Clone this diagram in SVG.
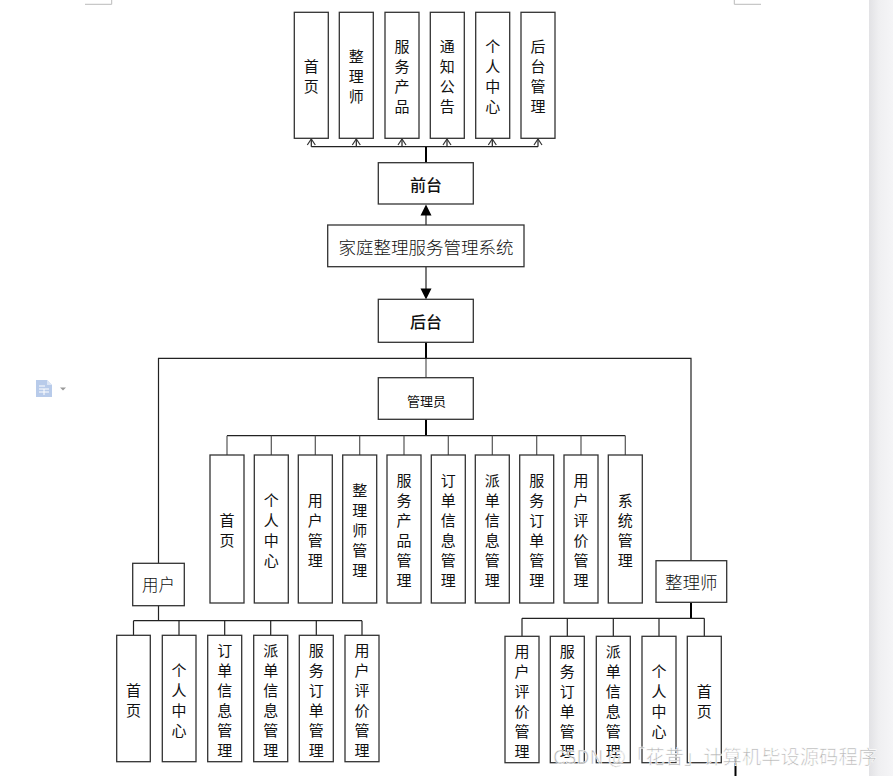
<svg xmlns="http://www.w3.org/2000/svg" width="893" height="776" viewBox="0 0 893 776">
<defs>
<style>
.box{fill:#fff;stroke:#333;stroke-width:1.3}
.ln{fill:none;stroke:#222;stroke-width:1.2}
.stem{fill:none;stroke:#000;stroke-width:2}
.gl{fill:none;stroke:#555;stroke-width:1.2}
.vt{font-family:"Noto Sans CJK SC","Noto Sans",sans-serif;font-size:15px;fill:#111;text-anchor:middle;dominant-baseline:central}
.lbl{font-family:"Noto Sans CJK SC","Noto Sans",sans-serif;fill:#111;text-anchor:middle;dominant-baseline:central}
</style>
<marker id="open" markerWidth="8" markerHeight="10" refX="7" refY="5" orient="auto" markerUnits="userSpaceOnUse" viewBox="0 0 8 10">
<path d="M1,1 L7,5 L1,9" fill="none" stroke="#333" stroke-width="1.2"/>
</marker>
<linearGradient id="band" x1="0" y1="0" x2="1" y2="0">
<stop offset="0" stop-color="#e2e2e5"/>
<stop offset="0.4" stop-color="#efeff1"/>
<stop offset="1" stop-color="#f5f5f7"/>
</linearGradient>
</defs>
<rect x="0" y="0" width="893" height="776" fill="#fff"/>
<rect x="869" y="0" width="24" height="776" fill="url(#band)"/>
<path d="M85,4.3 H111.7 V0" fill="none" stroke="#bbb" stroke-width="1"/>
<path d="M734.3,0 V4.3 H761" fill="none" stroke="#bbb" stroke-width="1"/>
<g id="icon">
<path d="M36,380 H47 L52,385 V397 H36 Z" fill="#b8cbea"/>
<path d="M47,380 V385 H52" fill="#dbe5f5"/>
<path d="M39,386 H45 M39,389 H49 M39,392 H49 M44,389 V395" stroke="#fff" stroke-width="1"/>
<path d="M60,387.5 H66 L63,390.5 Z" fill="#999"/>
</g>

<g id="connectors">
<path class="ln" d="M311.3,146.7 H538"/>
<path class="ln" d="M311.3,146.7 V139" marker-end="url(#open)"/>
<path class="ln" d="M356.3,146.7 V139" marker-end="url(#open)"/>
<path class="ln" d="M402,146.7 V139" marker-end="url(#open)"/>
<path class="ln" d="M447,146.7 V139" marker-end="url(#open)"/>
<path class="ln" d="M492.3,146.7 V139" marker-end="url(#open)"/>
<path class="ln" d="M538,146.7 V139" marker-end="url(#open)"/>
<path class="stem" d="M426,147 V163"/>
<path class="ln" d="M426,225 V215"/>
<path d="M420.5,215.5 H431.5 L426,204.5 Z" fill="#000"/>
<path class="ln" d="M426,266.7 V289"/>
<path d="M420.5,288.5 H431.5 L426,299.5 Z" fill="#000"/>
<path class="stem" d="M426,342 V358.3"/>
<path class="gl" d="M426,358.3 V377.7"/>
<path class="ln" d="M158.5,563.3 V358.3 H691 V560.7"/>
<path class="stem" d="M426,419.3 V435.7"/>
<path class="ln" d="M227,435.7 H625.3"/>
<path class="gl" d="M227,435.7 V455 M271.3,435.7 V455 M315.3,435.7 V455 M359.7,435.7 V455 M404,435.7 V455 M448.3,435.7 V455 M492.3,435.7 V455 M536.7,435.7 V455 M581,435.7 V455 M625.3,435.7 V455"/>
<path class="ln" d="M158.5,605.7 V620.7"/>
<path class="ln" d="M133.5,620.7 H362"/>
<path class="ln" d="M133.5,620.7 V635.3 M179,620.7 V635.3 M224.7,620.7 V635.3 M270.7,620.7 V635.3 M316.3,620.7 V635.3 M362,620.7 V635.3"/>
<path class="stem" d="M691,602.3 V618.3"/>
<path class="ln" d="M522,618.3 H704.3"/>
<path class="ln" d="M522,618.3 V636.3 M567.3,618.3 V636.3 M613.3,618.3 V636.3 M659,618.3 V636.3 M704.3,618.3 V636.3"/>
</g>

<g id="top-shouye"><rect class="box" x="294.3" y="12.3" width="34" height="126"/><text class="vt"><tspan x="311.3" y="65">首</tspan><tspan x="311.3" y="85">页</tspan></text></g>
<g id="top-zhenglishi"><rect class="box" x="339.3" y="12.3" width="34" height="126"/><text class="vt"><tspan x="356.3" y="55">整</tspan><tspan x="356.3" y="75">理</tspan><tspan x="356.3" y="95">师</tspan></text></g>
<g id="top-fuwuchanpin"><rect class="box" x="385" y="12.3" width="34" height="126"/><text class="vt"><tspan x="402" y="45">服</tspan><tspan x="402" y="65">务</tspan><tspan x="402" y="85">产</tspan><tspan x="402" y="105">品</tspan></text></g>
<g id="top-tongzhi"><rect class="box" x="430.3" y="12.3" width="34" height="126"/><text class="vt"><tspan x="447.3" y="45">通</tspan><tspan x="447.3" y="65">知</tspan><tspan x="447.3" y="85">公</tspan><tspan x="447.3" y="105">告</tspan></text></g>
<g id="top-geren"><rect class="box" x="475.7" y="12.3" width="34" height="126"/><text class="vt"><tspan x="492.7" y="45">个</tspan><tspan x="492.7" y="65">人</tspan><tspan x="492.7" y="85">中</tspan><tspan x="492.7" y="105">心</tspan></text></g>
<g id="top-houtai"><rect class="box" x="521" y="12.3" width="34" height="126"/><text class="vt"><tspan x="538" y="45">后</tspan><tspan x="538" y="65">台</tspan><tspan x="538" y="85">管</tspan><tspan x="538" y="105">理</tspan></text></g>

<g id="qiantai"><rect class="box" x="378.3" y="162.7" width="95" height="41.3"/><text class="lbl" x="426" y="184" font-size="16" font-weight="500">前台</text></g>
<g id="system"><rect class="box" x="327.7" y="225" width="196.3" height="41.7"/><text class="lbl" x="426" y="246" font-size="17.5" font-weight="300">家庭整理服务管理系统</text></g>
<g id="houtai"><rect class="box" x="378.3" y="299.3" width="95" height="43"/><text class="lbl" x="426" y="321" font-size="16" font-weight="500">后台</text></g>
<g id="admin"><rect class="box" x="378.3" y="377.7" width="95" height="41.6"/><text class="lbl" x="426.5" y="400" font-size="13">管理员</text></g>

<g id="a-shouye"><rect class="box" x="210" y="455" width="34" height="148"/><text class="vt"><tspan x="227" y="519">首</tspan><tspan x="227" y="539">页</tspan></text></g>
<g id="a-geren"><rect class="box" x="254.3" y="455" width="34" height="148"/><text class="vt"><tspan x="271.3" y="499">个</tspan><tspan x="271.3" y="519">人</tspan><tspan x="271.3" y="539">中</tspan><tspan x="271.3" y="559">心</tspan></text></g>
<g id="a-yonghu"><rect class="box" x="298.3" y="455" width="34" height="148"/><text class="vt"><tspan x="315.3" y="499">用</tspan><tspan x="315.3" y="519">户</tspan><tspan x="315.3" y="539">管</tspan><tspan x="315.3" y="559">理</tspan></text></g>
<g id="a-zhenglishi"><rect class="box" x="342.7" y="455" width="34" height="148"/><text class="vt"><tspan x="359.7" y="489">整</tspan><tspan x="359.7" y="509">理</tspan><tspan x="359.7" y="529">师</tspan><tspan x="359.7" y="549">管</tspan><tspan x="359.7" y="569">理</tspan></text></g>
<g id="a-fuwuchanpin"><rect class="box" x="387" y="455" width="34" height="148"/><text class="vt"><tspan x="404" y="479">服</tspan><tspan x="404" y="499">务</tspan><tspan x="404" y="519">产</tspan><tspan x="404" y="539">品</tspan><tspan x="404" y="559">管</tspan><tspan x="404" y="579">理</tspan></text></g>
<g id="a-dingdan"><rect class="box" x="431.3" y="455" width="34" height="148"/><text class="vt"><tspan x="448.3" y="479">订</tspan><tspan x="448.3" y="499">单</tspan><tspan x="448.3" y="519">信</tspan><tspan x="448.3" y="539">息</tspan><tspan x="448.3" y="559">管</tspan><tspan x="448.3" y="579">理</tspan></text></g>
<g id="a-paidan"><rect class="box" x="475.3" y="455" width="34" height="148"/><text class="vt"><tspan x="492.3" y="479">派</tspan><tspan x="492.3" y="499">单</tspan><tspan x="492.3" y="519">信</tspan><tspan x="492.3" y="539">息</tspan><tspan x="492.3" y="559">管</tspan><tspan x="492.3" y="579">理</tspan></text></g>
<g id="a-fuwudingdan"><rect class="box" x="519.7" y="455" width="34" height="148"/><text class="vt"><tspan x="536.7" y="479">服</tspan><tspan x="536.7" y="499">务</tspan><tspan x="536.7" y="519">订</tspan><tspan x="536.7" y="539">单</tspan><tspan x="536.7" y="559">管</tspan><tspan x="536.7" y="579">理</tspan></text></g>
<g id="a-pingjia"><rect class="box" x="564" y="455" width="34" height="148"/><text class="vt"><tspan x="581" y="479">用</tspan><tspan x="581" y="499">户</tspan><tspan x="581" y="519">评</tspan><tspan x="581" y="539">价</tspan><tspan x="581" y="559">管</tspan><tspan x="581" y="579">理</tspan></text></g>
<g id="a-xitong"><rect class="box" x="608.3" y="455" width="34" height="148"/><text class="vt"><tspan x="625.3" y="499">系</tspan><tspan x="625.3" y="519">统</tspan><tspan x="625.3" y="539">管</tspan><tspan x="625.3" y="559">理</tspan></text></g>

<g id="user"><rect class="box" x="132.7" y="563.3" width="51.6" height="42.4"/><text class="lbl" x="158.5" y="584" font-size="16.5" font-weight="300">用户</text></g>
<g id="worker"><rect class="box" x="656" y="560.7" width="70.7" height="41.6"/><text class="lbl" x="691.3" y="581" font-size="17.5" font-weight="300">整理师</text></g>

<g id="u-shouye"><rect class="box" x="116.7" y="635.3" width="33.6" height="126.4"/><text class="vt"><tspan x="133.5" y="688.5">首</tspan><tspan x="133.5" y="708.5">页</tspan></text></g>
<g id="u-geren"><rect class="box" x="162.3" y="635.3" width="33.7" height="126.4"/><text class="vt"><tspan x="179.1" y="668.5">个</tspan><tspan x="179.1" y="688.5">人</tspan><tspan x="179.1" y="708.5">中</tspan><tspan x="179.1" y="728.5">心</tspan></text></g>
<g id="u-dingdan"><rect class="box" x="207.7" y="635.3" width="34" height="126.4"/><text class="vt"><tspan x="224.7" y="648.5">订</tspan><tspan x="224.7" y="668.5">单</tspan><tspan x="224.7" y="688.5">信</tspan><tspan x="224.7" y="708.5">息</tspan><tspan x="224.7" y="728.5">管</tspan><tspan x="224.7" y="748.5">理</tspan></text></g>
<g id="u-paidan"><rect class="box" x="253.7" y="635.3" width="34" height="126.4"/><text class="vt"><tspan x="270.7" y="648.5">派</tspan><tspan x="270.7" y="668.5">单</tspan><tspan x="270.7" y="688.5">信</tspan><tspan x="270.7" y="708.5">息</tspan><tspan x="270.7" y="728.5">管</tspan><tspan x="270.7" y="748.5">理</tspan></text></g>
<g id="u-fuwudingdan"><rect class="box" x="299.3" y="635.3" width="34" height="126.4"/><text class="vt"><tspan x="316.3" y="648.5">服</tspan><tspan x="316.3" y="668.5">务</tspan><tspan x="316.3" y="688.5">订</tspan><tspan x="316.3" y="708.5">单</tspan><tspan x="316.3" y="728.5">管</tspan><tspan x="316.3" y="748.5">理</tspan></text></g>
<g id="u-pingjia"><rect class="box" x="345" y="635.3" width="34" height="126.4"/><text class="vt"><tspan x="362" y="648.5">用</tspan><tspan x="362" y="668.5">户</tspan><tspan x="362" y="688.5">评</tspan><tspan x="362" y="708.5">价</tspan><tspan x="362" y="728.5">管</tspan><tspan x="362" y="748.5">理</tspan></text></g>

<g id="w-pingjia"><rect class="box" x="505" y="636.3" width="34" height="126.4"/><text class="vt"><tspan x="522" y="649.5">用</tspan><tspan x="522" y="669.5">户</tspan><tspan x="522" y="689.5">评</tspan><tspan x="522" y="709.5">价</tspan><tspan x="522" y="729.5">管</tspan><tspan x="522" y="749.5">理</tspan></text></g>
<g id="w-fuwudingdan"><rect class="box" x="550.3" y="636.3" width="34" height="126.4"/><text class="vt"><tspan x="567.3" y="649.5">服</tspan><tspan x="567.3" y="669.5">务</tspan><tspan x="567.3" y="689.5">订</tspan><tspan x="567.3" y="709.5">单</tspan><tspan x="567.3" y="729.5">管</tspan><tspan x="567.3" y="749.5">理</tspan></text></g>
<g id="w-paidan"><rect class="box" x="596.3" y="636.3" width="34" height="126.4"/><text class="vt"><tspan x="613.3" y="649.5">派</tspan><tspan x="613.3" y="669.5">单</tspan><tspan x="613.3" y="689.5">信</tspan><tspan x="613.3" y="709.5">息</tspan><tspan x="613.3" y="729.5">管</tspan><tspan x="613.3" y="749.5">理</tspan></text></g>
<g id="w-geren"><rect class="box" x="642" y="636.3" width="34" height="126.4"/><text class="vt"><tspan x="659" y="669.5">个</tspan><tspan x="659" y="689.5">人</tspan><tspan x="659" y="709.5">中</tspan><tspan x="659" y="729.5">心</tspan></text></g>
<g id="w-shouye"><rect class="box" x="687.3" y="636.3" width="34" height="126.4"/><text class="vt"><tspan x="704.3" y="689.5">首</tspan><tspan x="704.3" y="709.5">页</tspan></text></g>

<path d="M735.5,757 V776" stroke="#000" stroke-width="2"/>
<text x="553" y="764" font-family="'Noto Sans CJK SC','Noto Sans',sans-serif" font-size="19" fill="#a8a8a8" fill-opacity="0.85" stroke="#fff" stroke-width="0.6" textLength="324" lengthAdjust="spacingAndGlyphs">CSDN @「花昔」计算机毕设源码程序</text>
</svg>
